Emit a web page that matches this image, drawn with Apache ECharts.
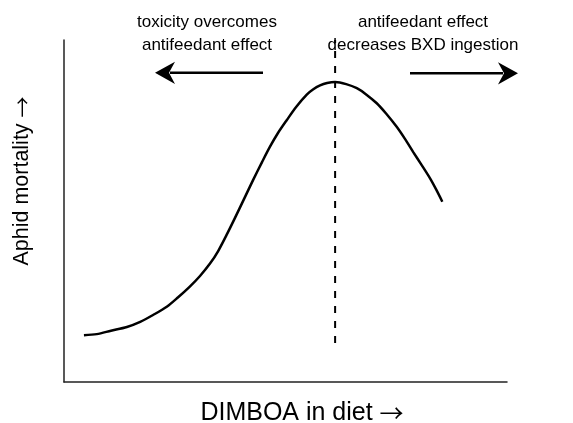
<!DOCTYPE html>
<html>
<head>
<meta charset="utf-8">
<script src="https://cdn.jsdelivr.net/npm/echarts@6/dist/echarts.min.js"></script>
<style>html,body{margin:0;padding:0;background:#fff}#c{width:573px;height:423px}</style>
</head>
<body>
<div id="c"></div>
<script>
// DIMBOA in diet (relative units) and aphid mortality (relative units)
const dimboa = [4.5, 7.4, 10.6, 14.2, 17.2, 20.1, 23.2, 25.7, 28.4, 30.7, 33.0, 34.8, 36.7, 38.6, 40.6, 42.7, 44.7, 46.5, 48.3, 50.3,
  52.4, 54.8, 56.2, 57.8, 59.4, 61.2, 63.7, 66.1, 68.2, 70.6, 72.7, 75.1, 77.0, 78.8, 80.6, 82.6, 84.0, 85.4];
const mortality = [13.7, 14.0, 15.0, 16.1, 17.6, 19.6, 22.0, 24.7, 27.9, 31.0, 34.7, 38.3, 43.0, 48.0, 53.4, 59.1, 64.3, 68.8, 72.8, 76.6,
  80.4, 84.0, 85.5, 86.7, 87.4, 87.7, 87.1, 85.9, 84.1, 81.5, 78.5, 74.6, 71.0, 67.3, 63.7, 59.6, 56.3, 52.7];
const peakX = [61.2, 61.2];
const peakY = [11.4, 100];
const xTitle = 'DIMBOA in diet';
const yTitle = 'Aphid mortality';
const arrowChar = '\u2192';
const leftNote = 'toxicity overcomes\nantifeedant effect';
const rightNote = 'antifeedant effect\ndecreases BXD ingestion';

const font = '"Liberation Sans", Arial, sans-serif';
const chart = echarts.init(document.getElementById('c'), null, {renderer: 'canvas'});
chart.setOption({
  animation: false,
  backgroundColor: '#fff',
  grid: {left: 64, right: 66, top: 40, bottom: 41},
  xAxis: {type: 'value', min: 0, max: 100, axisLine: {show: true, lineStyle: {color: '#222', width: 1.5}},
    axisTick: {show: false}, axisLabel: {show: false}, splitLine: {show: false}},
  yAxis: {type: 'value', min: 0, max: 100, axisLine: {show: true, lineStyle: {color: '#222', width: 1.5}},
    axisTick: {show: false}, axisLabel: {show: false}, splitLine: {show: false}},
  series: [
    {type: 'line', data: dimboa.map((x, i) => [x, mortality[i]]), smooth: 0.3, showSymbol: false,
      lineStyle: {color: '#000', width: 2.5}},
    {type: 'line', data: peakX.map((x, i) => [x, peakY[i]]), showSymbol: false,
      lineStyle: {color: '#000', width: 2, type: [7, 8]}}
  ],
  graphic: [
    {type: 'text', x: 207, y: 34, style: {text: leftNote, font: '17px ' + font, fill: '#000', align: 'center', verticalAlign: 'middle', lineHeight: 23}},
    {type: 'text', x: 423, y: 34, style: {text: rightNote, font: '17px ' + font, fill: '#000', align: 'center', verticalAlign: 'middle', lineHeight: 23}},
    {type: 'line', shape: {x1: 263, y1: 72.7, x2: 170, y2: 72.7}, style: {stroke: '#000', lineWidth: 2.5}},
    {type: 'polygon', shape: {points: [[155, 72.7], [175, 61.7], [169, 72.7], [175, 84]]}, style: {fill: '#000'}},
    {type: 'line', shape: {x1: 410, y1: 73.3, x2: 503, y2: 73.3}, style: {stroke: '#000', lineWidth: 2.5}},
    {type: 'polygon', shape: {points: [[518, 73.3], [498, 62.3], [504, 73.3], [498, 84.6]]}, style: {fill: '#000'}},
    {type: 'text', x: 302, y: 413, style: {text: '{t|' + xTitle + ' }{a|' + arrowChar + '}', align: 'center', verticalAlign: 'middle',
      rich: {t: {font: '25px ' + font, fill: '#000'}, a: {font: '24px "Noto Sans CJK SC"', fill: '#000'}}}},
    {type: 'text', x: 22, y: 181, rotation: Math.PI / 2, style: {text: '{t|' + yTitle + ' }{a|' + arrowChar + '}', align: 'center', verticalAlign: 'middle',
      rich: {t: {font: '21.5px ' + font, fill: '#000'}, a: {font: '21px "Noto Sans CJK SC"', fill: '#000'}}}}
  ]
});
</script>
</body>
</html>
